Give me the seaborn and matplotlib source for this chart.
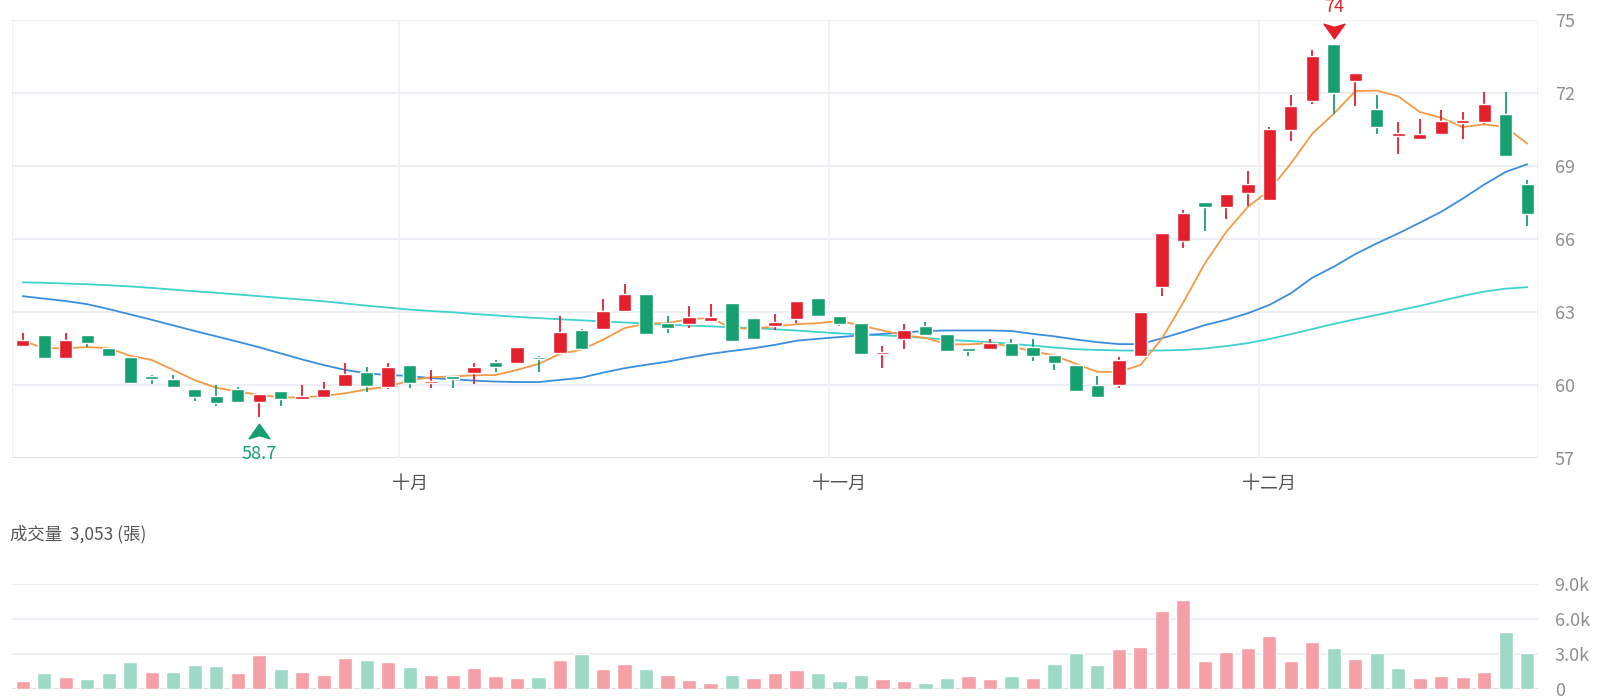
import numpy as np
import pandas as pd
import matplotlib.pyplot as plt
import seaborn as sns
from matplotlib.path import Path
from matplotlib.transforms import offset_copy

# 日K資料 (讀圖估計)
opens = [61.61, 62.05, 61.10, 62.04, 61.54, 61.16, 60.36, 60.25, 59.85, 59.53,
         59.85, 59.30, 59.75, 59.42, 59.50, 59.96, 60.54, 59.92, 60.84, 60.10,
         60.35, 60.50, 60.94, 60.90, 61.17, 61.31, 62.27, 62.31, 63.03, 63.76,
         62.55, 62.50, 62.61, 63.37, 62.75, 62.41, 62.71, 63.56, 62.85, 62.56,
         61.28, 61.90, 62.42, 62.10, 61.53, 61.49, 61.72, 61.56, 61.25, 60.83,
         60.02, 60.01, 61.18, 64.04, 65.92, 67.53, 67.30, 67.91, 67.60, 70.50,
         71.69, 74.00, 72.49, 71.33, 70.22, 70.10, 70.30, 70.77, 70.81, 71.12,
         68.24]
highs = [62.13, 62.05, 62.13, 62.04, 61.54, 61.16, 60.40, 60.40, 59.85, 60.00,
         59.90, 59.63, 59.75, 60.00, 60.11, 60.91, 60.73, 60.90, 60.84, 60.62,
         60.35, 60.92, 61.03, 61.56, 61.20, 62.82, 62.30, 63.54, 64.17, 63.76,
         62.82, 63.23, 63.34, 63.37, 62.75, 62.93, 63.45, 63.56, 62.85, 62.56,
         61.62, 62.52, 62.59, 62.10, 61.53, 61.90, 61.90, 61.89, 61.25, 60.83,
         60.37, 61.17, 63.00, 66.23, 67.19, 67.53, 67.84, 68.80, 70.60, 71.90,
         73.78, 74.00, 72.83, 71.90, 70.81, 70.92, 71.31, 71.20, 72.04, 72.04,
         68.42]
lows = [61.58, 61.10, 61.06, 61.56, 61.14, 60.04, 60.04, 59.90, 59.35, 59.13,
        59.27, 58.70, 59.15, 59.42, 59.50, 59.93, 59.73, 59.84, 59.86, 59.86,
        59.86, 60.03, 60.52, 60.90, 60.54, 61.31, 61.48, 62.31, 63.03, 62.10,
        62.13, 62.34, 62.61, 61.82, 61.85, 62.24, 62.55, 62.82, 62.41, 61.28,
        60.70, 61.49, 62.02, 61.35, 61.21, 61.49, 61.20, 61.00, 60.62, 59.77,
        59.50, 59.86, 61.15, 63.66, 65.61, 66.34, 66.84, 67.35, 67.60, 70.03,
        71.53, 71.15, 71.45, 70.33, 69.51, 70.10, 70.30, 70.12, 70.71, 69.41,
        66.53]
closes = [61.86, 61.10, 61.86, 61.72, 61.20, 60.07, 60.25, 59.90, 59.52, 59.27,
          59.30, 59.63, 59.42, 59.53, 59.84, 60.44, 59.97, 60.73, 60.10, 60.17,
          60.26, 60.74, 60.76, 61.56, 61.07, 62.16, 61.50, 63.05, 63.76, 62.10,
          62.34, 62.79, 62.79, 61.82, 61.90, 62.57, 63.45, 62.82, 62.49, 61.28,
          61.35, 62.24, 62.06, 61.38, 61.38, 61.72, 61.20, 61.18, 60.90, 59.77,
          59.50, 61.04, 62.98, 66.23, 67.05, 67.32, 67.84, 68.25, 70.53, 71.45,
          73.54, 72.00, 72.83, 70.60, 70.36, 70.33, 70.83, 70.87, 71.53, 69.41,
          67.02]

ma5 = [61.82, 61.51, 61.51, 61.56, 61.51, 61.20, 61.03, 60.62, 60.20, 59.89,
       59.73, 59.59, 59.49, 59.49, 59.55, 59.66, 59.82, 59.93, 60.19, 60.32,
       60.35, 60.40, 60.41, 60.62, 60.87, 61.28, 61.45, 61.86, 62.34, 62.52,
       62.55, 62.71, 62.75, 62.34, 62.31, 62.41, 62.50, 62.54, 62.63, 62.45,
       62.24, 62.04, 61.94, 61.67, 61.67, 61.72, 61.58, 61.39, 61.21, 60.87,
       60.54, 60.54, 60.82, 61.90, 63.40, 65.00, 66.30, 67.32, 68.00, 69.10,
       70.33, 71.15, 72.08, 72.10, 71.86, 71.22, 70.98, 70.60, 70.71, 70.60,
       69.92]
ma20 = [63.65, 63.55, 63.45, 63.32, 63.12, 62.90, 62.68, 62.45, 62.22, 62.00,
        61.78, 61.55, 61.30, 61.05, 60.82, 60.62, 60.48, 60.41, 60.37, 60.28,
        60.24, 60.18, 60.14, 60.12, 60.12, 60.21, 60.30, 60.51, 60.69, 60.83,
        60.96, 61.13, 61.28, 61.40, 61.51, 61.65, 61.82, 61.90, 61.97, 62.04,
        62.10, 62.16, 62.22, 62.24, 62.24, 62.24, 62.22, 62.10, 62.00, 61.87,
        61.76, 61.68, 61.68, 61.92, 62.18, 62.46, 62.68, 62.95, 63.29, 63.77,
        64.41, 64.86, 65.38, 65.82, 66.23, 66.67, 67.12, 67.66, 68.24, 68.76,
        69.07]
ma60 = [64.22, 64.20, 64.17, 64.14, 64.10, 64.05, 63.99, 63.92, 63.85, 63.79,
        63.72, 63.65, 63.58, 63.51, 63.44, 63.35, 63.26, 63.18, 63.10, 63.04,
        62.99, 62.92, 62.86, 62.80, 62.75, 62.70, 62.66, 62.61, 62.57, 62.52,
        62.48, 62.44, 62.41, 62.37, 62.34, 62.29, 62.24, 62.18, 62.12, 62.08,
        62.04, 62.00, 61.93, 61.86, 61.81, 61.76, 61.69, 61.62, 61.54, 61.47,
        61.44, 61.42, 61.41, 61.42, 61.44, 61.50, 61.60, 61.72, 61.89, 62.09,
        62.30, 62.51, 62.70, 62.88, 63.06, 63.25, 63.46, 63.66, 63.84, 63.96,
        64.02]

# 成交量(張) 與漲跌
volume = [660, 1340, 1060, 890, 1370, 2340, 1490, 1490, 2100, 1940,
          1340, 2890, 1740, 1460, 1200, 2690, 2460, 2340, 1920, 1170,
          1200, 1770, 1110, 970, 1030, 2460, 2970, 1720, 2140, 1740,
          1200, 800, 510, 1200, 970, 1340, 1600, 1370, 660, 1200,
          890, 660, 510, 940, 1140, 830, 1090, 910, 2110, 3060,
          2080, 3400, 3600, 6700, 7600, 2370, 3140, 3500, 4570, 2430,
          4000, 3500, 2570, 3060, 1770, 970, 1110, 1030, 1460, 4890,
          3053]
vol_dir = list('rgrgggrgggrrgrrrgrgrrrrrgrgrrgrrrgrrrgggrrggrrgrggg'
               'rrrrrrrrrrgrggrrrrgg')

month_labels = ['十月', '十一月', '十二月']
month_start = [18, 38, 58]
price_ticks = [57, 60, 63, 66, 69, 72, 75]
vol_ticks = [0, 3000, 6000, 9000]
vol_ticklabels = ['0', '3.0k', '6.0k', '9.0k']

RED = '#e3202c'
GREEN = '#17a06f'
RED_L = '#f4a0a6'
GREEN_L = '#9dd9c4'
GRID = '#eaecf4'
TXT = '#8f8f8f'

sns.set_theme(style='white')
plt.rcParams['font.family'] = ['Noto Sans CJK TC', 'DejaVu Sans']

df = pd.DataFrame({'open': opens, 'high': highs, 'low': lows, 'close': closes,
                   'ma5': ma5, 'ma20': ma20, 'ma60': ma60,
                   'volume': volume, 'vdir': vol_dir})
df['idx'] = np.arange(len(df))
up = df['close'] >= df['open']
colors = np.where(up, RED, GREEN)

fig = plt.figure(figsize=(16, 7), dpi=100)
ax = fig.add_axes([12 / 1600, 1 - 458 / 700, 1526 / 1600, 438 / 700])
axv = fig.add_axes([12 / 1600, 1 - 689 / 700, 1526 / 1600, 105 / 700])

# 格線
for y in price_ticks[1:]:
    ax.axhline(y, color=GRID, lw=1.3, zorder=0)
ax.axhline(57, color='#d9dce6', lw=1.3, zorder=0)
for xb in [-0.5, 17.5, 37.5, 57.5, 70.5]:
    ax.axvline(xb, color='#eff0f5', lw=1.2, zorder=0)

# 均線
sns.lineplot(data=df, x='idx', y='ma60', color='#3ed2cc', lw=1.3, ax=ax, zorder=2)
sns.lineplot(data=df, x='idx', y='ma20', color='#3a8ee0', lw=1.3, ax=ax, zorder=2)
sns.lineplot(data=df, x='idx', y='ma5', color='#f39a45', lw=1.3, ax=ax, zorder=2)

# K棒
ax.vlines(df['idx'], df['low'], df['high'], colors=colors, lw=1.3, zorder=3)
body_lo = np.minimum(df['open'], df['close'])
body_h = np.maximum((df['close'] - df['open']).abs(), 0.07)
ax.bar(df['idx'], body_h, bottom=body_lo, width=0.62, color=colors, zorder=4)

# 最高/最低標記
hi_i = int(df['high'].idxmax())
lo_i = int(df['low'].idxmin())
down_arrow = Path([(0, -0.35), (0.5, 0.35), (0, 0.2), (-0.5, 0.35), (0, -0.35)],
                  [Path.MOVETO, Path.LINETO, Path.LINETO, Path.LINETO, Path.CLOSEPOLY])
up_arrow = Path([(0, 0.35), (0.5, -0.35), (0, -0.2), (-0.5, -0.35), (0, 0.35)],
                [Path.MOVETO, Path.LINETO, Path.LINETO, Path.LINETO, Path.CLOSEPOLY])
ax.plot(hi_i, df['high'][hi_i], marker=down_arrow, ms=15, color=RED, clip_on=False,
        transform=offset_copy(ax.transData, fig=fig, y=9.5, units='points'), zorder=5)
ax.plot(lo_i, df['low'][lo_i], marker=up_arrow, ms=15, color=GREEN, clip_on=False,
        transform=offset_copy(ax.transData, fig=fig, y=-10, units='points'), zorder=5)
ax.annotate(f"{df['high'][hi_i]:g}", xy=(hi_i, df['high'][hi_i]), xytext=(0, 27),
            textcoords='offset points', ha='center', va='center', color=RED,
            fontsize=13, annotation_clip=False)
ax.annotate(f"{df['low'][lo_i]:g}", xy=(lo_i, df['low'][lo_i]), xytext=(0, -27),
            textcoords='offset points', ha='center', va='center', color=GREEN,
            fontsize=13, annotation_clip=False)

ax.set_xlim(-0.5, len(df) - 0.5)
ax.set_ylim(57, 75)
ax.set_yticks(price_ticks)
ax.yaxis.tick_right()
ax.set_xticks(month_start)
ax.set_xticklabels(month_labels)
ax.tick_params(axis='x', length=0, pad=12, labelsize=13, labelcolor='#555555')
ax.tick_params(axis='y', length=0, pad=12, labelsize=13, labelcolor=TXT)
ax.set_xlabel('')
ax.set_ylabel('')
for s in ax.spines.values():
    s.set_visible(False)

# 成交量
for y in vol_ticks[1:]:
    axv.axhline(y, color=GRID, lw=1.3, zorder=0)
axv.axhline(0, color='#d9dce6', lw=1.3, zorder=0)
sns.barplot(data=df, x='idx', y='volume', hue='vdir',
            palette={'r': RED_L, 'g': GREEN_L}, saturation=1, dodge=False,
            legend=False, errorbar=None, width=0.66, ax=axv, zorder=2)
axv.set_xlim(-0.5, len(df) - 0.5)
axv.set_ylim(0, 9000)
axv.set_yticks(vol_ticks)
axv.set_yticklabels(vol_ticklabels)
axv.yaxis.tick_right()
axv.set_xticks([])
axv.tick_params(axis='y', length=0, pad=12, labelsize=13, labelcolor=TXT)
axv.set_xlabel('')
axv.set_ylabel('')
for s in axv.spines.values():
    s.set_visible(False)

fig.text(10 / 1600, 1 - 534 / 700, f"成交量  {volume[-1]:,} (張)", fontsize=12.5,
         color='#555555', va='center', ha='left')

fig.savefig('out.png', dpi=100, facecolor='white')
